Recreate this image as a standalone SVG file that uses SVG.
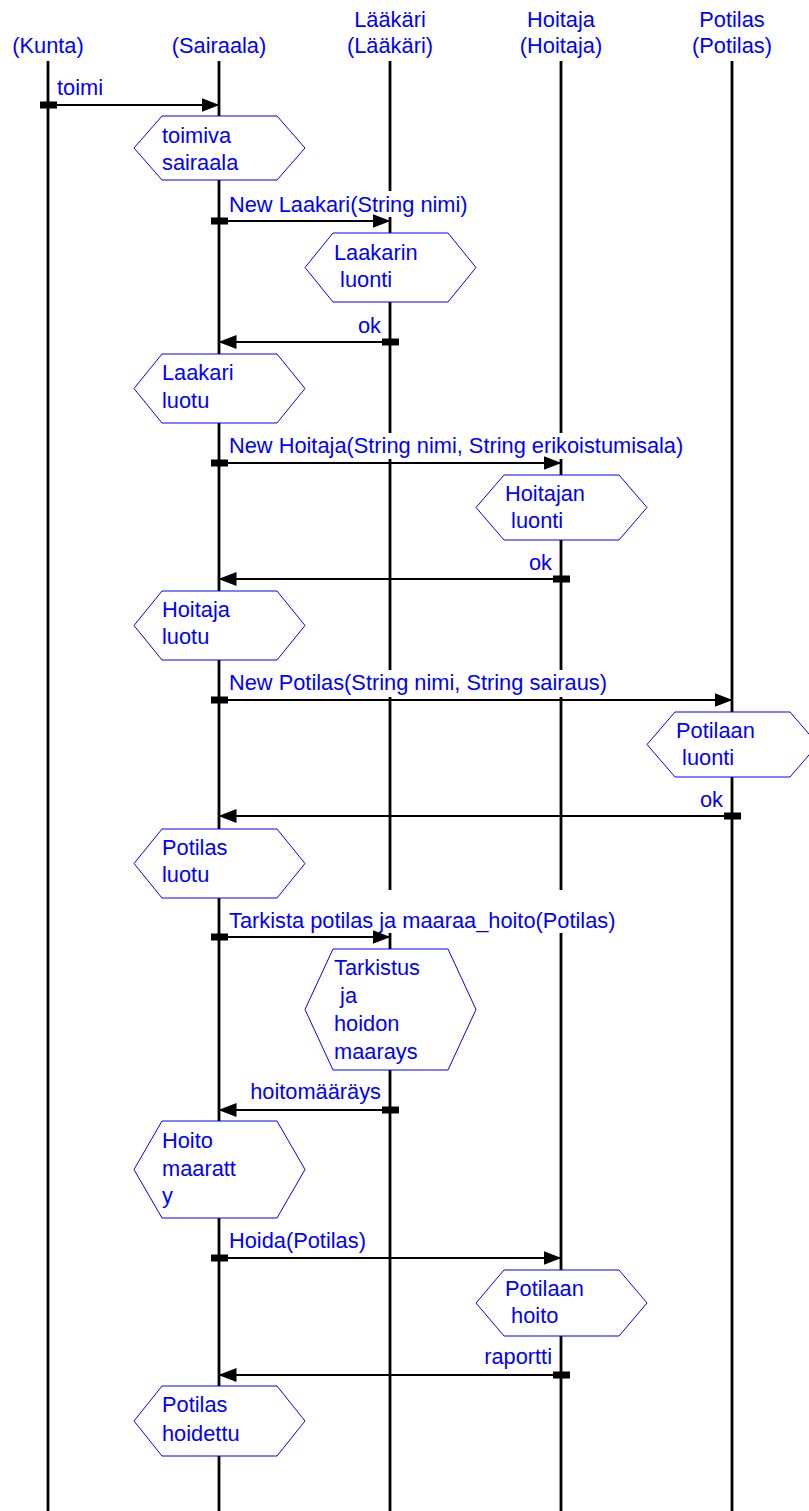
<svg xmlns="http://www.w3.org/2000/svg" width="809" height="1511" viewBox="0 0 809 1511">
<style>
text{font-family:"Liberation Sans",Arial,sans-serif;font-size:21.8px;fill:#0000ff}
.hdr{text-anchor:middle}
.end{text-anchor:end}
.life{stroke:#000;stroke-width:2.8}
.msg{stroke:#000;stroke-width:2.2;fill:none;marker-end:url(#ah)}
.bar{fill:#000}
.bg{fill:#fff}
.hex{fill:#fff;stroke:#0000ff;stroke-width:1}
</style>
<defs>
<marker id="ah" markerUnits="userSpaceOnUse" viewBox="0 0 18 14" markerWidth="18" markerHeight="14" refX="17.5" refY="7" orient="auto">
<path d="M0,0 L18,7 L0,14 z" fill="#000"/>
</marker>
</defs>
<rect width="809" height="1511" fill="#fff"/>

<g id="kunta">
<text class="hdr" x="48" y="53">(Kunta)</text>
<line class="life" x1="48" y1="61" x2="48" y2="1511"/>
</g>
<g id="sairaala">
<text class="hdr" x="219" y="53">(Sairaala)</text>
<line class="life" x1="219" y1="61" x2="219" y2="1511"/>
</g>
<g id="laakari">
<text class="hdr" x="390" y="27">Lääkäri</text>
<text class="hdr" x="390" y="53">(Lääkäri)</text>
<line class="life" x1="390" y1="61" x2="390" y2="1511"/>
</g>
<g id="hoitaja">
<text class="hdr" x="561" y="27">Hoitaja</text>
<text class="hdr" x="561" y="53">(Hoitaja)</text>
<line class="life" x1="561" y1="61" x2="561" y2="1511"/>
</g>
<g id="potilas">
<text class="hdr" x="732" y="27">Potilas</text>
<text class="hdr" x="732" y="53">(Potilas)</text>
<line class="life" x1="732" y1="61" x2="732" y2="1511"/>
</g>

<g id="connectors">
<rect class="bg" x="227" y="191" width="244" height="26"/>
<rect class="bg" x="227" y="433" width="460" height="26"/>
<rect class="bg" x="227" y="670" width="384" height="27"/>
<rect class="bg" x="227" y="890" width="391" height="43"/>

<line class="msg" x1="48" y1="105" x2="219" y2="105"/>
<rect class="bar" x="40" y="101.5" width="17" height="7"/>
<text x="57" y="95">toimi</text>

<line class="msg" x1="219" y1="221" x2="390" y2="221"/>
<rect class="bar" x="211" y="217.5" width="17" height="7"/>
<text x="229" y="212">New Laakari(String nimi)</text>

<line class="msg" x1="390" y1="342" x2="219" y2="342"/>
<rect class="bar" x="382" y="338.5" width="17" height="7"/>
<text class="end" x="381" y="333">ok</text>

<line class="msg" x1="219" y1="463" x2="561" y2="463"/>
<rect class="bar" x="211" y="459.5" width="17" height="7"/>
<text x="229" y="453">New Hoitaja(String nimi, String erikoistumisala)</text>

<line class="msg" x1="561" y1="579" x2="219" y2="579"/>
<rect class="bar" x="553" y="575.5" width="17" height="7"/>
<text class="end" x="552" y="570">ok</text>

<line class="msg" x1="219" y1="700" x2="732" y2="700"/>
<rect class="bar" x="211" y="696.5" width="17" height="7"/>
<text x="229" y="690">New Potilas(String nimi, String sairaus)</text>

<line class="msg" x1="732" y1="816" x2="219" y2="816"/>
<rect class="bar" x="724" y="812.5" width="17" height="7"/>
<text class="end" x="723" y="807">ok</text>

<line class="msg" x1="219" y1="937" x2="390" y2="937"/>
<rect class="bar" x="211" y="933.5" width="17" height="7"/>
<text x="229" y="928">Tarkista potilas ja maaraa_hoito(Potilas)</text>

<line class="msg" x1="390" y1="1110" x2="219" y2="1110"/>
<rect class="bar" x="382" y="1106.5" width="17" height="7"/>
<text class="end" x="381" y="1099">hoitomääräys</text>

<line class="msg" x1="219" y1="1258" x2="561" y2="1258"/>
<rect class="bar" x="211" y="1254.5" width="17" height="7"/>
<text x="229" y="1248">Hoida(Potilas)</text>

<line class="msg" x1="561" y1="1375" x2="219" y2="1375"/>
<rect class="bar" x="553" y="1371.5" width="17" height="7"/>
<text class="end" x="552" y="1364">raportti</text>
</g>

<g id="toimiva-sairaala">
<polygon class="hex" points="134,148 162,116 277,116 305,148 277,180 162,180"/>
<text x="162" y="143">toimiva</text>
<text x="162" y="170">sairaala</text>
</g>
<g id="laakarin-luonti">
<polygon class="hex" points="305,267.5 333,233 448,233 476,267.5 448,302 333,302"/>
<text x="334" y="260">Laakarin</text>
<text x="334" y="287" xml:space="preserve"> luonti</text>
</g>
<g id="laakari-luotu">
<polygon class="hex" points="134,388.5 162,354 277,354 305,388.5 277,423 162,423"/>
<text x="162" y="380">Laakari</text>
<text x="162" y="408">luotu</text>
</g>
<g id="hoitajan-luonti">
<polygon class="hex" points="476,507.5 504,475 619,475 647,507.5 619,540 504,540"/>
<text x="505" y="501">Hoitajan</text>
<text x="505" y="528" xml:space="preserve"> luonti</text>
</g>
<g id="hoitaja-luotu">
<polygon class="hex" points="134,625.5 162,591 277,591 305,625.5 277,660 162,660"/>
<text x="162" y="617">Hoitaja</text>
<text x="162" y="644">luotu</text>
</g>
<g id="potilaan-luonti">
<polygon class="hex" points="647,744.5 675,712 790,712 818,744.5 790,777 675,777"/>
<text x="676" y="738">Potilaan</text>
<text x="676" y="765" xml:space="preserve"> luonti</text>
</g>
<g id="potilas-luotu">
<polygon class="hex" points="134,863.5 162,829 277,829 305,863.5 277,898 162,898"/>
<text x="162" y="855">Potilas</text>
<text x="162" y="882">luotu</text>
</g>
<g id="tarkistus">
<polygon class="hex" points="305,1009.5 333,949 448,949 476,1009.5 448,1070 333,1070"/>
<text x="334" y="975">Tarkistus</text>
<text x="334" y="1003" xml:space="preserve"> ja</text>
<text x="334" y="1031">hoidon</text>
<text x="334" y="1059">maarays</text>
</g>
<g id="hoito-maaratty">
<polygon class="hex" points="134,1169.5 162,1121 277,1121 305,1169.5 277,1218 162,1218"/>
<text x="162" y="1148">Hoito</text>
<text x="162" y="1176">maaratt</text>
<text x="162" y="1203">y</text>
</g>
<g id="potilaan-hoito">
<polygon class="hex" points="476,1303 504,1270 619,1270 647,1303 619,1336 504,1336"/>
<text x="505" y="1296">Potilaan</text>
<text x="505" y="1323" xml:space="preserve"> hoito</text>
</g>
<g id="potilas-hoidettu">
<polygon class="hex" points="134,1421 162,1386 277,1386 305,1421 277,1456 162,1456"/>
<text x="162" y="1412">Potilas</text>
<text x="162" y="1441">hoidettu</text>
</g>
</svg>
